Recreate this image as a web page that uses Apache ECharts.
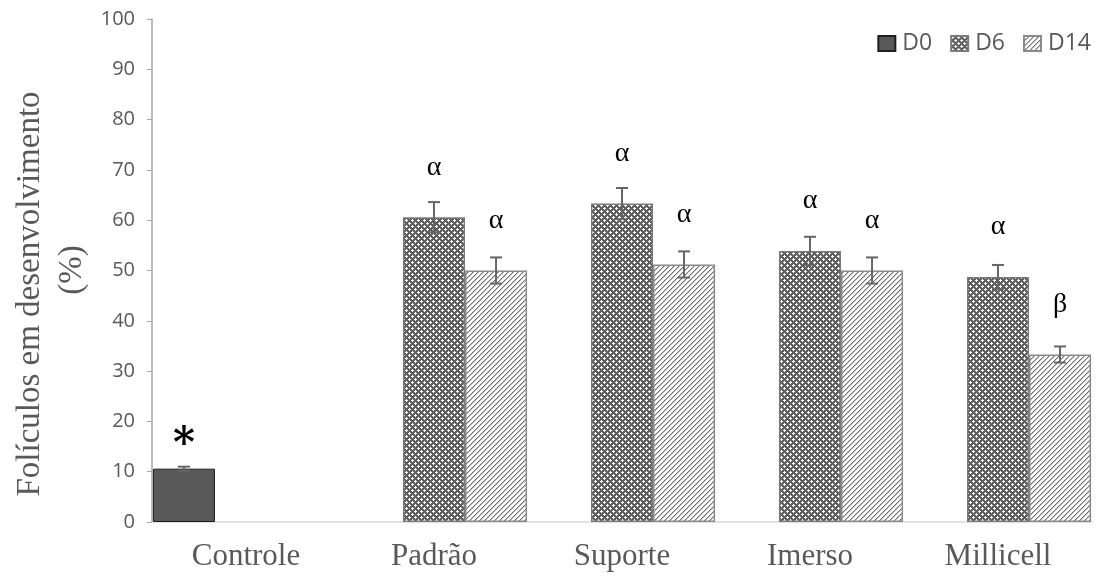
<!DOCTYPE html>
<html>
<head>
<meta charset="utf-8">
<script src="https://cdn.jsdelivr.net/npm/echarts@6/dist/echarts.min.js"></script>
<style>
  html, body { margin: 0; padding: 0; background: #fff; }
  #chart { width: 1102px; height: 579px; }
</style>
</head>
<body>
<div id="chart"></div>
<script>
// Groups and series values (% of follicles in development)
const categories = ['Controle', 'Padrão', 'Suporte', 'Imerso', 'Millicell'];
const seriesNames = ['D0', 'D6', 'D14'];
const d0Values = [10.6, null, null, null, null];
const d6Values = [null, 60.6, 63.3, 53.9, 48.7];
const d14Values = [null, 50.0, 51.2, 50.0, 33.3];
// Standard errors
const d0Errors = [0.4, null, null, null, null];
const d6Errors = [null, 3.0, 3.1, 2.8, 2.4];
const d14Errors = [null, 2.6, 2.6, 2.6, 1.6];
// Significance marks above the bars
const d0Marks = ['*', '', '', '', ''];
const d6Marks = ['', 'α', 'α', 'α', 'α'];
const d14Marks = ['', 'α', 'α', 'α', 'β'];
const yTicks = { min: 0, max: 100, step: 10 };

const CAT_GAP = 0.01;

// Excel-like fill patterns
function dottedPattern() {
  const c = document.createElement('canvas');
  c.width = 6; c.height = 6;
  const g = c.getContext('2d');
  g.fillStyle = '#5e5e5e';
  g.fillRect(0, 0, 6, 6);
  g.fillStyle = '#ffffff';
  [[1,0],[0,1],[1,1],[2,1],[1,2],[4,3],[3,4],[4,4],[5,4],[4,5]].forEach(p => g.fillRect(p[0], p[1], 1, 1));
  return c;
}
function hatchPattern() {
  const c = document.createElement('canvas');
  c.width = 5; c.height = 5;
  const g = c.getContext('2d');
  g.fillStyle = '#ffffff';
  g.fillRect(0, 0, 5, 5);
  g.fillStyle = '#6a6a6a';
  for (let i = 0; i < 5; i++) g.fillRect(i, 4 - i, 1, 1);
  g.fillStyle = '#c4c4c4';
  for (let i = 0; i < 5; i++) g.fillRect((i + 1) % 5, 4 - i, 1, 1);
  return c;
}

const fills = [
  { color: '#595959', borderColor: '#1f1f1f', borderWidth: 1 },
  { color: { image: dottedPattern(), repeat: 'repeat' }, borderColor: '#7a7a7a', borderWidth: 1.5 },
  { color: { image: hatchPattern(), repeat: 'repeat' }, borderColor: '#8a8a8a', borderWidth: 1.5 }
];
const valueSets = [d0Values, d6Values, d14Values];
const errorSets = [d0Errors, d6Errors, d14Errors];
const markSets = [d0Marks, d6Marks, d14Marks];

const barSeries = seriesNames.map((name, i) => ({
  name: name,
  type: 'bar',
  barGap: '0%',
  barCategoryGap: (CAT_GAP * 100) + '%',
  data: valueSets[i],
  itemStyle: fills[i],
  z: 2,
  label: {
    show: true,
    position: 'top',
    distance: i === 0 ? 2 : 36,
    formatter: p => markSets[i][p.dataIndex],
    fontFamily: i === 0 ? 'DejaVu Serif' : 'Liberation Serif',
    fontWeight: i === 0 ? 'bold' : 'normal',
    fontSize: i === 0 ? 42 : 28,
    color: '#000'
  }
}));

// Error bars drawn at each bar's slot within its group
const errorSeries = seriesNames.map((name, i) => ({
  type: 'custom',
  z: 5,
  silent: true,
  data: valueSets[i].map((v, k) => v == null ? null : [k, v, errorSets[i][k]]).filter(d => d),
  encode: { x: 0, y: 1 },
  renderItem: (params, api) => {
    const k = api.value(0), v = api.value(1), e = api.value(2);
    const catW = api.size([1, 0])[0];
    const barW = catW * (1 - CAT_GAP) / 3;
    const off = (i - 1) * barW;
    const top = api.coord([k, v + e]);
    const bot = api.coord([k, v - e]);
    const x = top[0] + off;
    const cap = 6;
    const st = { stroke: '#666666', lineWidth: 2 };
    return {
      type: 'group',
      children: [
        { type: 'line', shape: { x1: x, y1: top[1], x2: x, y2: bot[1] }, style: st },
        { type: 'line', shape: { x1: x - cap, y1: top[1], x2: x + cap, y2: top[1] }, style: st },
        { type: 'line', shape: { x1: x - cap, y1: bot[1], x2: x + cap, y2: bot[1] }, style: st }
      ]
    };
  }
}));

const chart = echarts.init(document.getElementById('chart'), null, { renderer: 'canvas' });
chart.setOption({
  animation: false,
  backgroundColor: '#ffffff',
  grid: { left: 152, right: 10, top: 19, bottom: 57 },
  legend: {
    data: seriesNames,
    right: 6,
    top: 27,
    itemWidth: 17,
    itemHeight: 15,
    itemGap: 18,
    icon: 'rect',
    textStyle: { fontFamily: 'Open Sans', fontSize: 23, color: '#595959', padding: [0, 0, 0, 2] }
  },
  xAxis: {
    type: 'category',
    data: categories,
    axisLine: { lineStyle: { color: '#d9d9d9', width: 1.5 } },
    axisTick: { show: false },
    axisLabel: { fontFamily: 'Liberation Serif', fontSize: 31, color: '#595959', margin: 19 }
  },
  yAxis: {
    type: 'value',
    min: yTicks.min,
    max: yTicks.max,
    interval: yTicks.step,
    axisLine: { show: true, lineStyle: { color: '#a6a6a6', width: 1.5 } },
    axisTick: { show: true, inside: false, length: 5, lineStyle: { color: '#a6a6a6' } },
    splitLine: { show: false },
    axisLabel: { fontFamily: 'Open Sans', fontSize: 20, color: '#595959', margin: 17 }
  },
  graphic: [
    {
      type: 'text', x: 30, y: 294, rotation: Math.PI / 2,
      style: { text: 'Folículos em desenvolvimento', fontFamily: 'Liberation Serif', fontSize: 33,
               fill: '#595959', textAlign: 'center', textVerticalAlign: 'middle' }
    },
    {
      type: 'text', x: 72, y: 270, rotation: Math.PI / 2,
      style: { text: '(%)', fontFamily: 'Liberation Serif', fontSize: 33,
               fill: '#595959', textAlign: 'center', textVerticalAlign: 'middle' }
    }
  ],
  series: barSeries.concat(errorSeries)
});
</script>
</body>
</html>
